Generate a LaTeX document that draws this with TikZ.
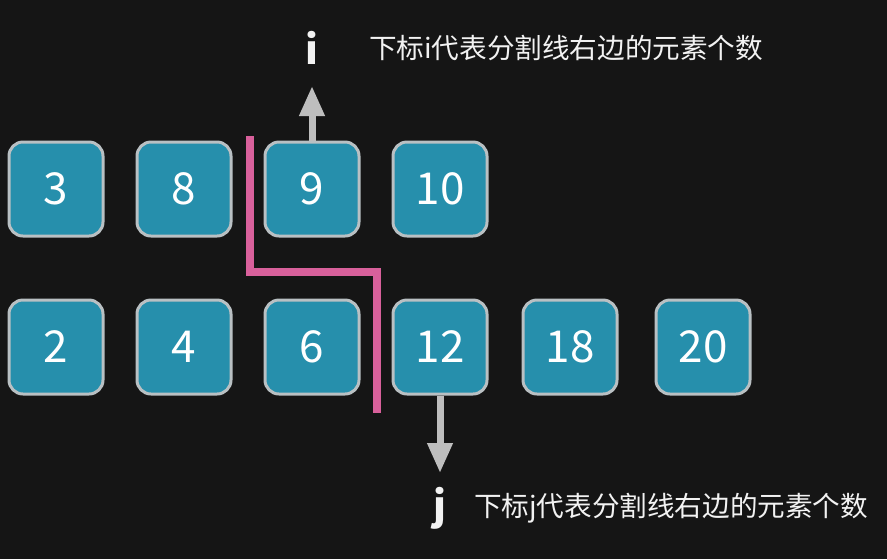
\documentclass[tikz,border=0pt]{standalone}
\usepackage{fontspec}
\setmainfont{Noto Sans CJK SC}
\usepackage{tikz}
\usetikzlibrary{arrows.meta, positioning}
\definecolor{bgdark}{HTML}{151515}
\definecolor{cellfill}{HTML}{268FAC}
\definecolor{cellrim}{HTML}{B9C0C3}
\definecolor{cutpink}{HTML}{D8609B}
\definecolor{ptrgray}{HTML}{BEBEBE}
\tikzstyle{cell} = [rectangle, rounded corners=7pt, minimum size=47pt, line width=1.5pt, draw=cellrim, fill=cellfill, text=white, font=\fontsize{22}{24}\selectfont]
\tikzstyle{ptr} = [line width=3.5pt, draw=ptrgray, -{Triangle[length=15pt,width=12pt]}]
\tikzstyle{idx} = [text=white!95!black, font=\fontsize{20}{22}\selectfont\bfseries]
\tikzstyle{note} = [text=white!95!black, anchor=west, font=\fontsize{13.8}{15}\selectfont]

\begin{document}
\begin{tikzpicture}[x=0.5pt,y=-0.5pt]
              \fill[bgdark] (0,0) rectangle (887,559);
              \useasboundingbox (0,0) rectangle (887,559);

              % first array
              \node[cell] (a-1) at (56,189) {3};
              \node[cell] (a-2) at (184,189) {8};
              \node[cell] (a-3) at (312,189) {9};
              \node[cell] (a-4) at (440,189) {10};

              % second array
              \node[cell] (b-1) at (56,347) {2};
              \node[cell] (b-2) at (184,347) {4};
              \node[cell] (b-3) at (312,347) {6};
              \node[cell] (b-4) at (440,347) {12};
              \node[cell] (b-5) at (570,347) {18};
              \node[cell] (b-6) at (703,347) {20};

              % split line
              \draw[cutpink, line width=4pt] (250,136) -- (250,272) -- (377,272) -- (377,413);

              % pointers
              \coordinate (i-tip) at (312,86);
              \coordinate (j-tip) at (440,473);
              \draw[ptr] (a-3.north) -- (i-tip);
              \draw[ptr] (b-4.south) -- (j-tip);

              \node[idx] (i-lab) at (312,48) {i};
              \node[idx] (j-lab) at (440,508) {j};
              \node[note] (i-note) at (362,48) {下标i代表分割线右边的元素个数};
              \node[note] (j-note) at (467,508) {下标j代表分割线右边的元素个数};

          \end{tikzpicture}
\end{document}
